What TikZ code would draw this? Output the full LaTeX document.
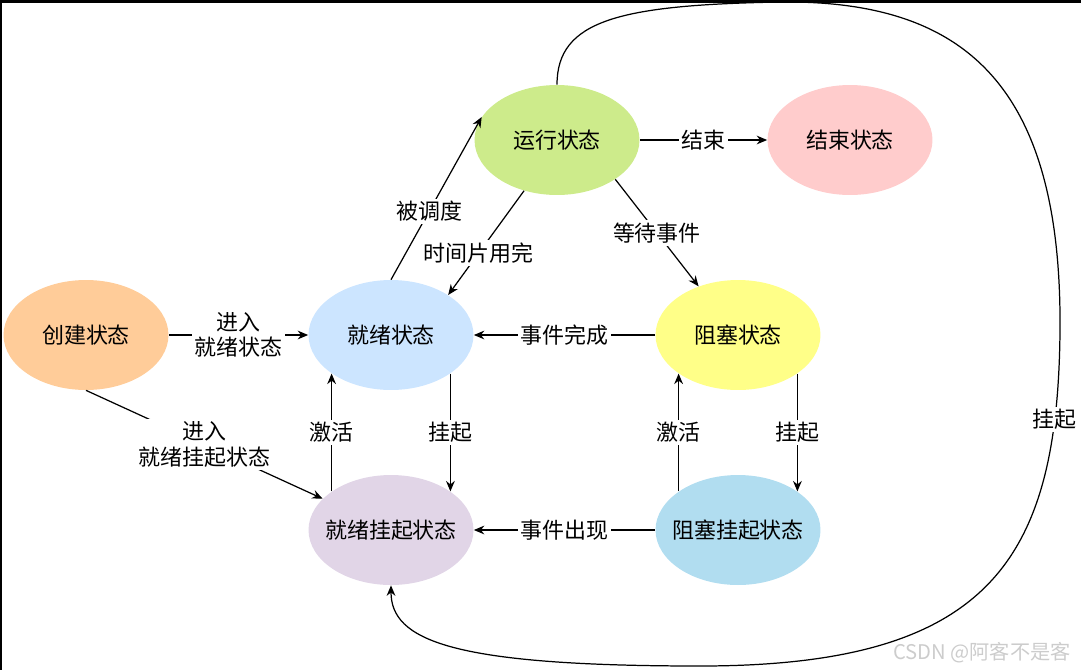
\documentclass[tikz,border=0pt]{standalone}
\usepackage{fontspec}
\setmainfont{Noto Sans CJK SC}
\usepackage{tikz}
\usetikzlibrary{shapes.geometric}
\usetikzlibrary{arrows.meta}

\definecolor{cCrear}{HTML}{FFCC99}
\definecolor{cListo}{HTML}{CCE5FF}
\definecolor{cEjec}{HTML}{CDEB8B}
\definecolor{cFin}{HTML}{FFCCCC}
\definecolor{cBloq}{HTML}{FFFF88}
\definecolor{cListoSusp}{HTML}{E1D5E7}
\definecolor{cBloqSusp}{HTML}{B1DDF0}

\begin{document}
\begin{tikzpicture}[x=0.02cm, y=-0.02cm,
    estado/.style={ellipse, minimum width=3.3cm, minimum height=2.2cm, inner xsep=-0.35cm, inner ysep=0pt, font=\fontsize{12.5}{15}\selectfont},
    etiqueta/.style={fill=white, inner sep=1.5pt, align=center, font=\fontsize{12.5}{14.5}\selectfont},
    flecha/.style={-{Stealth[length=6pt, width=5pt, inset=2pt]}, line width=0.7pt}]
            \useasboundingbox (0,0) rectangle (1081,670);
            \draw[line width=0.1cm] (0,670) -- (0,0) -- (1081,0);

            % Estados
            \node[estado, fill=cCrear] (crear) at (86,335) {创建状态};
            \node[estado, fill=cListo] (listo) at (391,335) {就绪状态};
            \node[estado, fill=cEjec] (ejec) at (557,140) {运行状态};
            \node[estado, fill=cFin] (fin) at (850,140) {结束状态};
            \node[estado, fill=cBloq] (bloq) at (738,335) {阻塞状态};
            \node[estado, fill=cListoSusp] (listosusp) at (391,530) {就绪挂起状态};
            \node[estado, fill=cBloqSusp] (bloqsusp) at (738,530) {阻塞挂起状态};

            % Transiciones
            \draw[flecha] (crear) -- (listo) node[midway, etiqueta] {进入\\就绪状态};
            \draw[flecha] (crear.south) -- (listosusp) node[midway, etiqueta] {进入\\就绪挂起状态};
            \draw[flecha] (listo.north) -- (ejec.163) node[pos=0.42, etiqueta] {被调度};
            \draw[flecha] (ejec.237) -- (listo.35) node[pos=0.6, etiqueta] {时间片用完};
            \draw[flecha] (ejec) -- (fin) node[midway, etiqueta] {结束};
            \draw[flecha] (ejec.-34) -- (bloq.129) node[midway, etiqueta] {等待事件};
            \draw[flecha] (bloq) -- (listo) node[midway, etiqueta] {事件完成};
            \draw[flecha] (listo.-33) -- (listosusp.33) node[midway, etiqueta] {挂起};
            \draw[flecha] (listosusp.147) -- (listo.-147) node[midway, etiqueta] {激活};
            \draw[flecha] (bloq.-33) -- (bloqsusp.33) node[midway, etiqueta] {挂起};
            \draw[flecha] (bloqsusp.147) -- (bloq.-147) node[midway, etiqueta] {激活};
            \draw[flecha] (bloqsusp) -- (listosusp) node[midway, etiqueta] {事件出现};
            \draw[flecha] (ejec.north) .. controls (557,20) and (620,5) .. (780,2)
                .. controls (960,0) and (1062,80) .. (1060,330)
                .. controls (1058,560) and (990,666) .. (700,666) node[pos=0.14, etiqueta] {挂起}
                .. controls (450,666) and (391,640) .. (listosusp.south);

            % Marca
            \node[text=black!20, font=\fontsize{11.5}{13}\selectfont, anchor=east] (marca) at (1077,653) {CSDN @阿客不是客};
          \end{tikzpicture}
\end{document}
